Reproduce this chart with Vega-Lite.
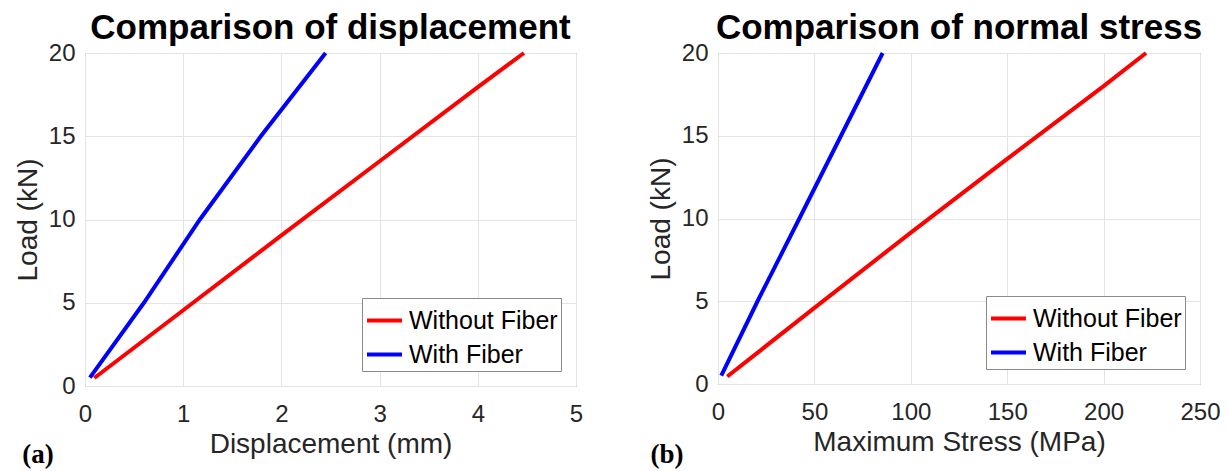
{
  "$schema": "https://vega.github.io/schema/vega-lite/v6.json",
  "padding": {"left": 13, "top": 10, "right": 0, "bottom": 0},
  "background": "white",
  "datasets": {
    "disp": [
      {"series": "Without Fiber", "x": 0.095, "load": 0.48},
      {"series": "Without Fiber", "x": 1.0, "load": 4.55},
      {"series": "Without Fiber", "x": 2.0, "load": 9.05},
      {"series": "Without Fiber", "x": 3.0, "load": 13.5},
      {"series": "Without Fiber", "x": 4.0, "load": 17.95},
      {"series": "Without Fiber", "x": 4.47, "load": 20.0},
      {"series": "With Fiber", "x": 0.05, "load": 0.5},
      {"series": "With Fiber", "x": 0.6, "load": 5.0},
      {"series": "With Fiber", "x": 1.17, "load": 10.0},
      {"series": "With Fiber", "x": 1.79, "load": 15.0},
      {"series": "With Fiber", "x": 2.45, "load": 20.0}
    ],
    "stress": [
      {"series": "Without Fiber", "x": 4.8, "load": 0.45},
      {"series": "Without Fiber", "x": 50, "load": 4.6},
      {"series": "Without Fiber", "x": 100, "load": 9.15},
      {"series": "Without Fiber", "x": 150, "load": 13.6},
      {"series": "Without Fiber", "x": 200, "load": 18.0},
      {"series": "Without Fiber", "x": 222, "load": 20.0},
      {"series": "With Fiber", "x": 1.7, "load": 0.5},
      {"series": "With Fiber", "x": 20.5, "load": 5.0},
      {"series": "With Fiber", "x": 42.2, "load": 10.0},
      {"series": "With Fiber", "x": 63.8, "load": 15.0},
      {"series": "With Fiber", "x": 85.4, "load": 20.0}
    ],
    "labA": [{"label": "(a)"}],
    "labB": [{"label": "(b)"}]
  },
  "spacing": 62,
  "hconcat": [
    {
      "width": 491,
      "height": 333,
      "title": {"text": "Comparison of displacement"},
      "layer": [
        {
          "data": {"name": "disp"},
          "mark": {"type": "line", "strokeWidth": 4},
          "encoding": {
            "x": {"field": "x", "type": "quantitative", "scale": {"domain": [0, 5], "nice": false}, "axis": {"title": "Displacement (mm)", "values": [0, 1, 2, 3, 4, 5], "format": "d"}},
            "y": {"field": "load", "type": "quantitative", "scale": {"domain": [0, 20], "nice": false}, "axis": {"title": "Load (kN)", "values": [0, 5, 10, 15, 20], "format": "d"}},
            "color": {"field": "series", "type": "nominal", "scale": {"domain": ["Without Fiber", "With Fiber"], "range": ["#ff0000", "#0000ff"]}, "legend": {"title": null, "orient": "bottom-right", "offset": 15}}
          }
        },
        {
          "data": {"name": "labA"},
          "mark": {"type": "text", "font": "Liberation Serif", "fontWeight": "bold", "fontSize": 27, "align": "left", "baseline": "alphabetic", "color": "black"},
          "encoding": {
            "x": {"datum": -0.64, "type": "quantitative"},
            "y": {"datum": -4.6, "type": "quantitative"},
            "text": {"field": "label"}
          }
        }
      ]
    },
    {
      "width": 482,
      "height": 331,
      "title": {"text": "Comparison of normal stress"},
      "layer": [
        {
          "data": {"name": "stress"},
          "mark": {"type": "line", "strokeWidth": 4},
          "encoding": {
            "x": {"field": "x", "type": "quantitative", "scale": {"domain": [0, 250], "nice": false}, "axis": {"title": "Maximum Stress (MPa)", "values": [0, 50, 100, 150, 200, 250], "format": "d"}},
            "y": {"field": "load", "type": "quantitative", "scale": {"domain": [0, 20], "nice": false}, "axis": {"title": "Load (kN)", "values": [0, 5, 10, 15, 20], "format": "d"}},
            "color": {"field": "series", "type": "nominal", "scale": {"domain": ["Without Fiber", "With Fiber"], "range": ["#ff0000", "#0000ff"]}, "legend": {"title": null, "orient": "bottom-right", "offset": 15}}
          }
        },
        {
          "data": {"name": "labB"},
          "mark": {"type": "text", "font": "Liberation Serif", "fontWeight": "bold", "fontSize": 27, "align": "left", "baseline": "alphabetic", "color": "black"},
          "encoding": {
            "x": {"datum": -35, "type": "quantitative"},
            "y": {"datum": -4.8, "type": "quantitative"},
            "text": {"field": "label"}
          }
        }
      ]
    }
  ],
  "resolve": {"scale": {"color": "independent", "x": "independent", "y": "independent"}, "legend": {"color": "independent"}},
  "config": {
    "font": "Liberation Sans",
    "view": {"stroke": "#8a8a8a", "strokeWidth": 1},
    "title": {"fontSize": 35, "fontWeight": "bold", "color": "black", "anchor": "middle", "offset": -5, "font": "Liberation Sans"},
    "axis": {
      "domain": false,
      "ticks": false,
      "grid": true,
      "gridColor": "#e3e3e3",
      "gridWidth": 1,
      "labelFontSize": 24,
      "labelColor": "#262626",
      "titleFontSize": 28,
      "titleFontWeight": "normal",
      "titleColor": "#262626",
      "labelFlush": false,
      "labelOverlap": false
    },
    "axisX": {"labelPadding": 16, "titlePadding": 4},
    "axisY": {"labelPadding": 10, "titlePadding": 6},
    "legend": {
      "strokeColor": "#8a8a8a",
      "fillColor": "white",
      "padding": 3,
      "symbolType": "stroke",
      "symbolSize": 1225,
      "symbolStrokeWidth": 4,
      "labelFontSize": 25,
      "labelColor": "black",
      "labelOffset": 5,
      "rowPadding": 1,
      "labelLimit": 400
    }
  }
}
